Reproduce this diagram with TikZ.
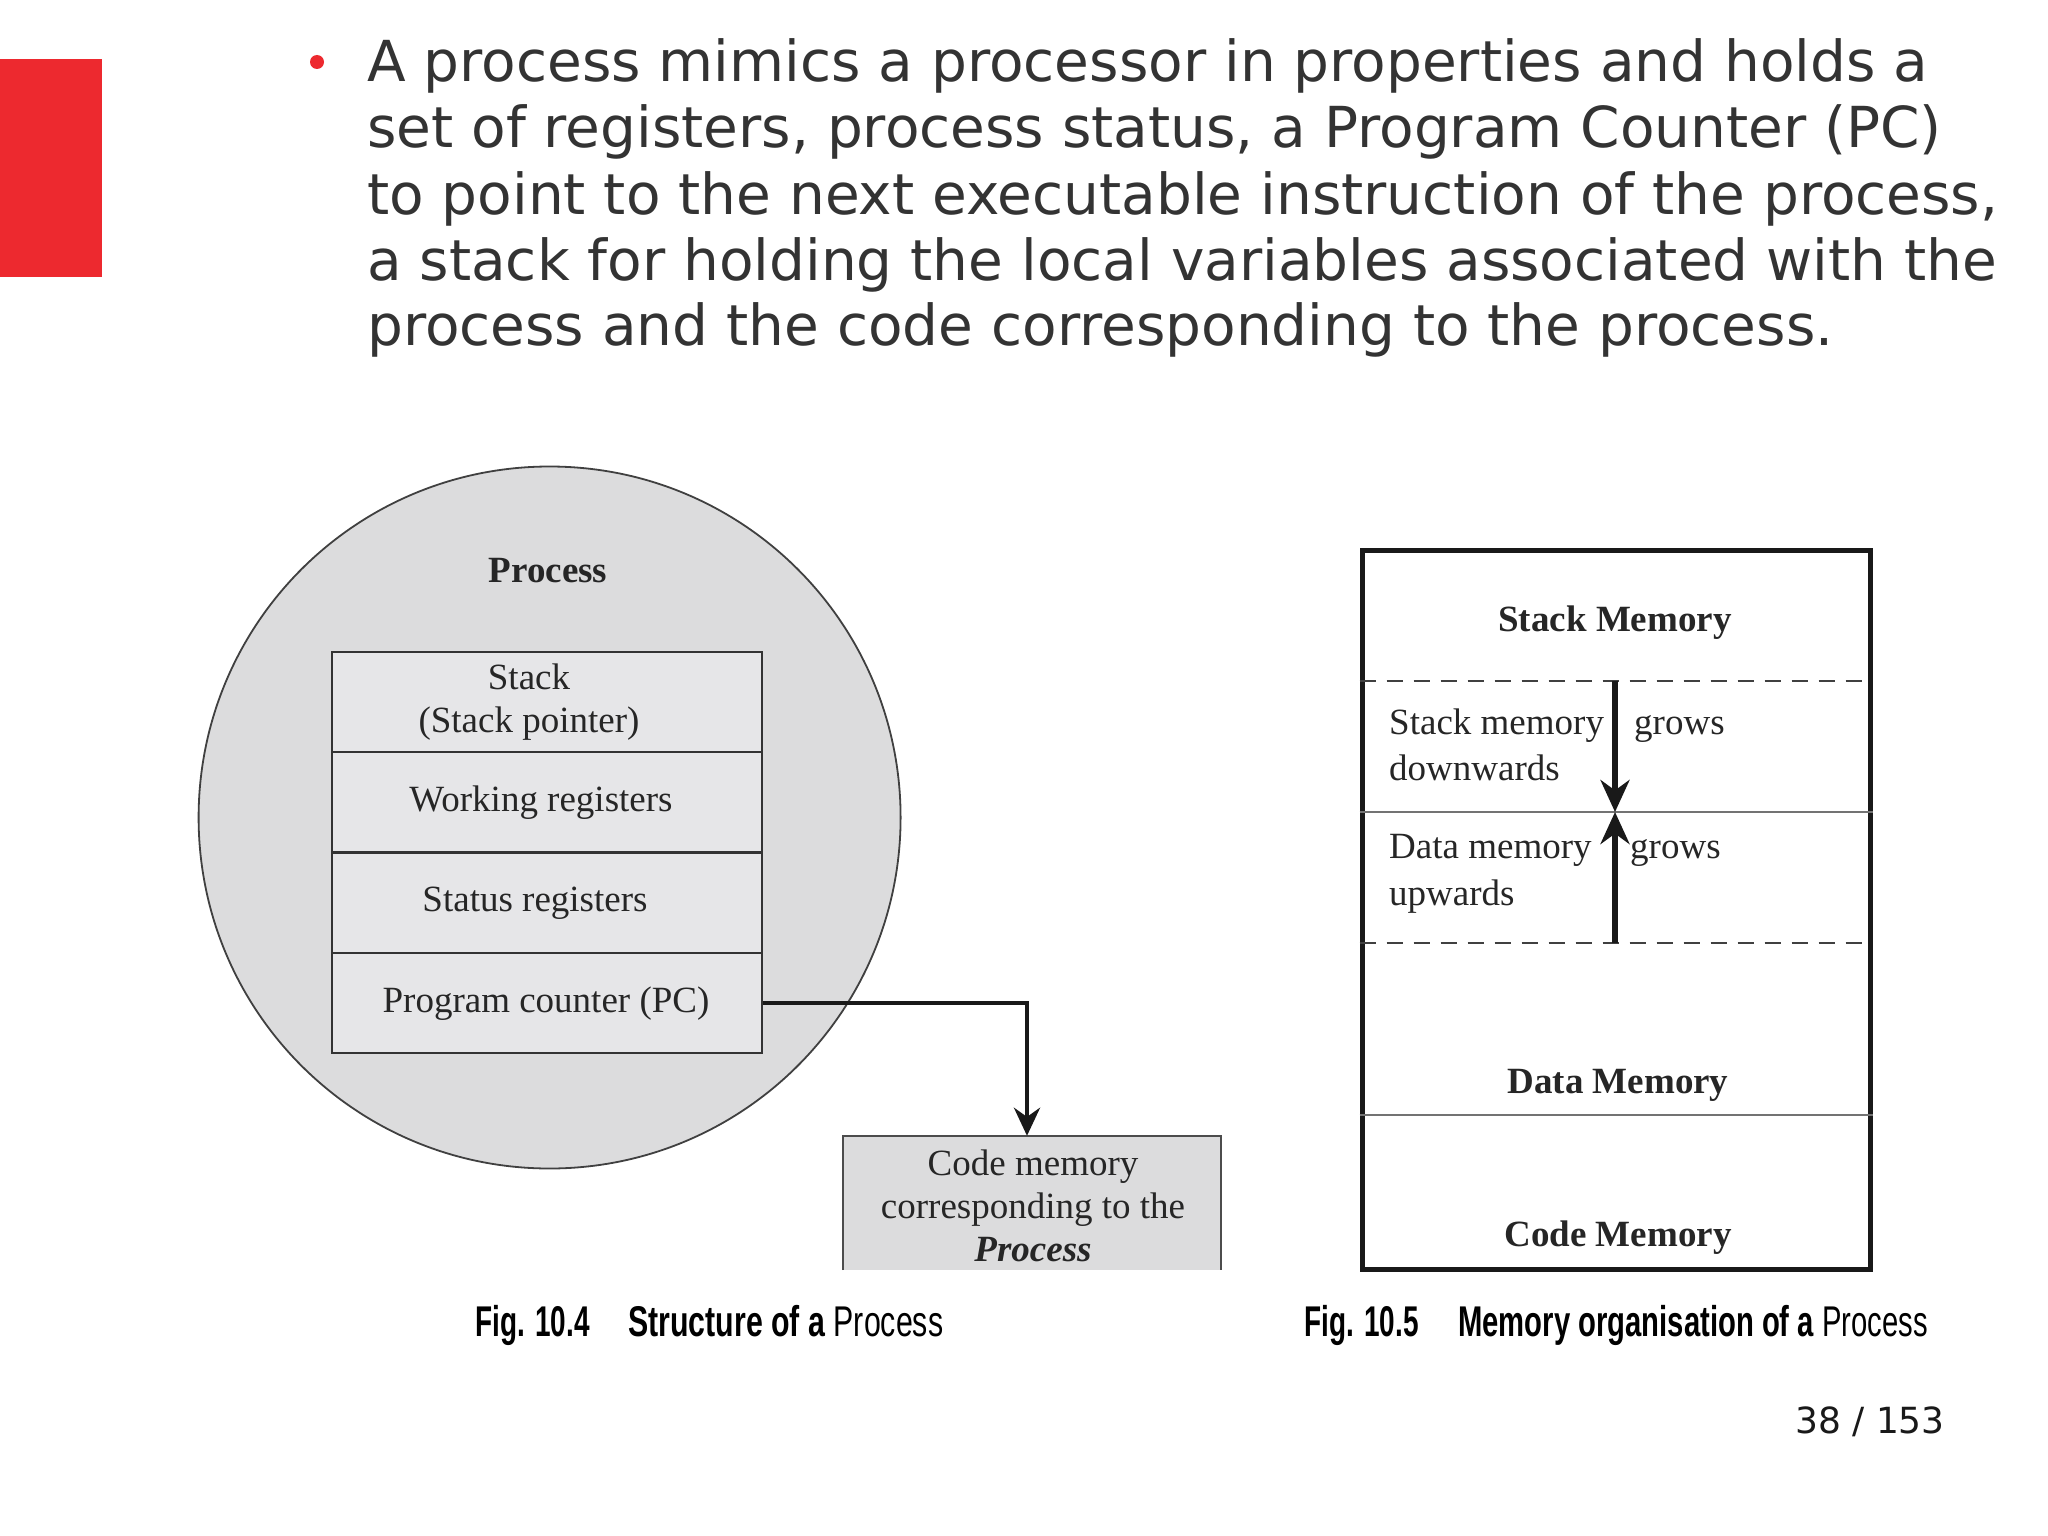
\documentclass[tikz,border=0pt]{standalone}
\usepackage{fontspec}
\setmainfont{Liberation Serif}
\newfontfamily\slidefont{DejaVu Sans}
\newfontfamily\capfont{Liberation Sans}
\usetikzlibrary{arrows.meta}
\definecolor{slidered}{RGB}{237,41,47}
\definecolor{txt}{RGB}{51,51,51}
\definecolor{circfill}{RGB}{220,220,221}
\definecolor{boxfill}{RGB}{230,230,232}
\begin{document}
\begin{tikzpicture}[x=1pt,y=-1pt,
  slidetext/.style={font=\slidefont\fontsize{56.5}{66}\selectfont, text=txt, anchor=base west, inner sep=0pt},
  serif/.style={font=\fontsize{37}{43}\selectfont, text=black!85, inner sep=0pt},
  serifbold/.style={font=\bfseries\fontsize{37}{43}\selectfont, text=black!85, inner sep=0pt},
  regbox/.style={draw=black!80, line width=2.4pt, fill=boxfill, minimum width=430pt, minimum height=100.25pt, inner sep=0pt},
  dividerdash/.style={draw=black!75, line width=2.4pt, dash pattern=on 16pt off 11pt},
  divider/.style={draw=black!55, line width=2.8pt},
  growarrow/.style={line width=5.5pt, draw=black!90, -{Stealth[length=32pt,width=29pt]}},
  capt/.style={font=\capfont\fontsize{43}{50}\selectfont, text=black, inner sep=0pt, anchor=base west}
]
\useasboundingbox (0,0) rectangle (2048,1536);
\fill[white] (0,0) rectangle (2048,1536);

% slide decoration and bullet text
\node[fill=slidered, minimum width=102pt, minimum height=218pt, inner sep=0pt, anchor=north west] (bar) at (0,59) {};
\node[circle, fill=slidered, minimum size=14pt, inner sep=0pt] (bullet) at (317,62) {};
\node[slidetext] (l1) at (367,82) {A process mimics a processor in properties and holds a};
\node[slidetext] (l2) at (367,148) {set of registers, process status, a Program Counter (PC)};
\node[slidetext] (l3) at (367,214) {to point to the next executable instruction of the process,};
\node[slidetext] (l4) at (367,280) {a stack for holding the local variables associated with the};
\node[slidetext] (l5) at (367,345) {process and the code corresponding to the process.};

% Fig 10.4
\node[circle, draw=black!75, line width=1.8pt, fill=circfill, minimum size=702pt, inner sep=0pt] (proc) at (549.6,817.5) {};
\node[serifbold, anchor=mid] (proct) at (548,580) {Process};
\node[regbox] (r1) at (547,702.1) {};
\node[regbox] (r2) at (547,802.4) {};
\node[regbox] (r3) at (547,902.6) {};
\node[regbox] (r4) at (547,1002.9) {};
\node[serif, align=center] (t1) at (529,702) {Stack\\(Stack pointer)};
\node[serif, anchor=mid] (t2) at (541,809) {Working registers};
\node[serif, anchor=mid] (t3) at (535,909) {Status registers};
\node[serif, anchor=mid] (t4) at (546,1010) {Program counter (PC)};

\node[fill=circfill, minimum width=378pt, minimum height=134pt, inner sep=0pt] (code) at (1032,1203) {};
\draw[line width=2pt, draw=black!70] (code.south west) -- (code.north west) -- (code.north east) -- (code.south east);
\node[serif, align=center] (codet) at (1033,1206) {Code memory\\corresponding to the\\\textbf{\textit{Process}}};
\draw[line width=4.5pt, draw=black!90, -{Stealth[length=28pt,width=26pt]}] (r4.east) -| ([xshift=-5pt]code.north);

% Fig 10.5
\node[draw=black!90, line width=5pt, minimum width=508pt, minimum height=719pt, inner sep=0pt] (mem) at (1616,909.5) {};
\draw[dividerdash] (mem.west |- 0,681) -- (mem.east |- 0,681);
\draw[divider] (mem.west |- 0,812) -- (mem.east |- 0,812);
\draw[dividerdash] (mem.west |- 0,943) -- (mem.east |- 0,943);
\draw[divider] (mem.west |- 0,1115) -- (mem.east |- 0,1115);
\coordinate (sTop) at (1615,681);
\coordinate (sMid) at (1615,812);
\coordinate (sBot) at (1615,943);
\draw[growarrow] (sTop) -- (sMid);
\draw[growarrow] (sBot) -- (sMid);
\node[serifbold, anchor=mid] (sm) at (1615,629) {Stack Memory};
\node[serif, anchor=mid west] (sm1) at (1389,732) {Stack memory};
\node[serif, anchor=mid west] (sm2) at (1634,732) {grows};
\node[serif, anchor=mid west] (sm3) at (1389,778) {downwards};
\node[serif, anchor=mid west] (dm1) at (1389,856) {Data memory};
\node[serif, anchor=mid west] (dm2) at (1630,856) {grows};
\node[serif, anchor=mid west] (dm3) at (1389,903) {upwards};
\node[serifbold, anchor=mid] (dm) at (1618,1091) {Data Memory};
\node[serifbold, anchor=mid] (cm) at (1618,1244) {Code Memory};

% captions
\node[capt] (f4) at (475,1336) {\scalebox{0.65}[1]{\bfseries Fig. 10.4}};
\node[capt] (c4) at (628,1336) {\scalebox{0.705}[1]{\bfseries Structure of a \mdseries Process}};
\node[capt] (f5) at (1304,1336) {\scalebox{0.65}[1]{\bfseries Fig. 10.5}};
\node[capt] (c5) at (1458,1336) {\scalebox{0.68}[1]{\bfseries Memory organisation of a \mdseries Process}};

\node[font=\slidefont\fontsize{36}{43}\selectfont, anchor=base east, inner sep=0pt, text=black!90] (pg) at (1945,1433) {38 / 153};
\end{tikzpicture}
\end{document}
